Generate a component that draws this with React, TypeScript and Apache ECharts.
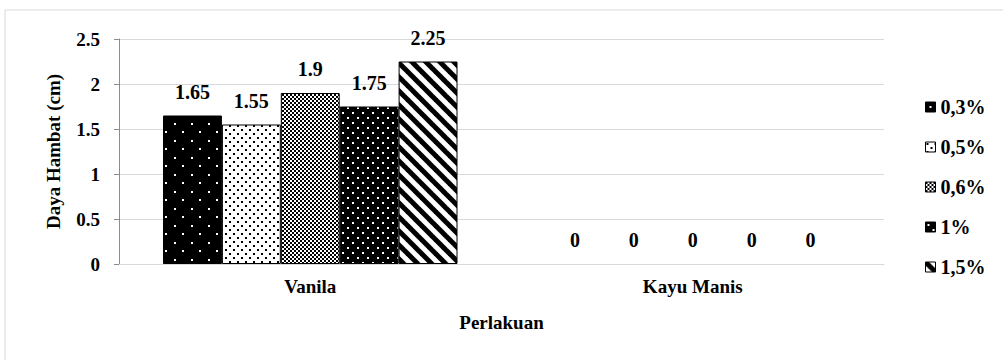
import React, { useEffect, useRef } from "react";
import * as echarts from "echarts";

const categories = ["Vanila", "Kayu Manis"];
const seriesNames = ["0,3%", "0,5%", "0,6%", "1%", "1,5%"];
const values03 = [1.65, 0];
const values05 = [1.55, 0];
const values06 = [1.9, 0];
const values1 = [1.75, 0];
const values15 = [2.25, 0];
const yTicks = [0, 0.5, 1, 1.5, 2, 2.5];

const FONT = "Liberation Serif";

function makeTile(size: number, draw: (c: CanvasRenderingContext2D) => void): string {
  const cv = document.createElement("canvas");
  cv.width = size;
  cv.height = size;
  const ctx = cv.getContext("2d")!;
  draw(ctx);
  return cv.toDataURL();
}

function patterns() {
  const p03 = makeTile(17, (c) => {
    c.fillStyle = "#000";
    c.fillRect(0, 0, 17, 17);
    c.fillStyle = "#fff";
    c.fillRect(4, 4, 2, 2);
    c.fillRect(12, 12, 2, 2);
  });
  const p05 = makeTile(8, (c) => {
    c.fillStyle = "#fff";
    c.fillRect(0, 0, 8, 8);
    c.fillStyle = "#000";
    c.fillRect(1, 1, 2, 2);
    c.fillRect(5, 5, 2, 2);
  });
  const p06 = makeTile(4, (c) => {
    c.fillStyle = "#fff";
    c.fillRect(0, 0, 4, 4);
    c.fillStyle = "#000";
    c.fillRect(0, 0, 2, 2);
    c.fillRect(2, 2, 2, 2);
  });
  const p1 = makeTile(10, (c) => {
    c.fillStyle = "#000";
    c.fillRect(0, 0, 10, 10);
    c.fillStyle = "#fff";
    c.fillRect(2, 2, 2, 2);
    c.fillRect(7, 7, 2, 2);
  });
  const p15 = makeTile(14, (c) => {
    c.fillStyle = "#fff";
    c.fillRect(0, 0, 14, 14);
    c.strokeStyle = "#000";
    c.lineWidth = 5;
    for (const k of [-14, 0, 14]) {
      c.beginPath();
      c.moveTo(k - 2, -2);
      c.lineTo(k + 16, 16);
      c.stroke();
    }
  });
  return [p03, p05, p06, p1, p15];
}

export default function App() {
  const ref = useRef<HTMLDivElement>(null);
  useEffect(() => {
    document.body.style.margin = "0";
    const chart = echarts.init(ref.current!, null, { renderer: "svg" });
    const pats = patterns();
    const allValues = [values03, values05, values06, values1, values15];
    const labelStyle = {
      show: true,
      position: "top" as const,
      distance: 14,
      fontFamily: FONT,
      fontWeight: "bold" as const,
      fontSize: 20,
      color: "#000",
    };
    chart.setOption({
      animation: false,
      backgroundColor: "#fff",
      graphic: [
        {
          type: "rect",
          shape: { x: 5, y: 10, width: 1100, height: 400 },
          style: { fill: "none", stroke: "#d9d9d9", lineWidth: 1 },
          silent: true,
        },
      ],
      legend: {
        orient: "vertical",
        left: 920,
        top: 92,
        itemWidth: 10,
        itemHeight: 10,
        itemGap: 20,
        icon: "rect",
        data: seriesNames,
        textStyle: {
          fontFamily: FONT,
          fontWeight: "bold",
          fontSize: 20,
          color: "#000",
          lineHeight: 20,
        },
        itemStyle: { borderColor: "#000", borderWidth: 1 },
      },
      grid: { left: 119, right: 119, top: 39, bottom: 96 },
      xAxis: {
        type: "category",
        data: categories,
        name: "Perlakuan",
        nameLocation: "middle",
        nameGap: 49,
        nameTextStyle: { fontFamily: FONT, fontWeight: "bold", fontSize: 19, color: "#000" },
        axisLine: { lineStyle: { color: "#d9d9d9" } },
        axisTick: { show: false },
        axisLabel: { fontFamily: FONT, fontWeight: "bold", fontSize: 19, color: "#000", margin: 13 },
      },
      yAxis: {
        type: "value",
        min: yTicks[0],
        max: yTicks[yTicks.length - 1],
        interval: 0.5,
        name: "Daya Hambat (cm)",
        nameLocation: "middle",
        nameRotate: 90,
        nameGap: 56,
        nameTextStyle: { fontFamily: FONT, fontWeight: "bold", fontSize: 19, color: "#000" },
        axisLine: { show: true, lineStyle: { color: "#8c8c8c" } },
        axisTick: { show: true, length: 5, lineStyle: { color: "#8c8c8c" } },
        splitLine: { lineStyle: { color: "#d9d9d9" } },
        axisLabel: { fontFamily: FONT, fontWeight: "bold", fontSize: 19, color: "#000", margin: 19 },
      },
      series: seriesNames.map((name, i) => ({
        name,
        type: "bar",
        barGap: "0%",
        barCategoryGap: "23%",
        data: allValues[i].map((v) =>
          v === 0 ? { value: v, itemStyle: { borderWidth: 0 } } : { value: v }
        ),
        itemStyle: {
          color: { image: pats[i], repeat: "repeat" },
          borderColor: "#000",
          borderWidth: 1,
        },
        label: labelStyle,
      })),
    });
    return () => chart.dispose();
  }, []);
  return <div ref={ref} style={{ width: 1003, height: 360 }} />;
}
